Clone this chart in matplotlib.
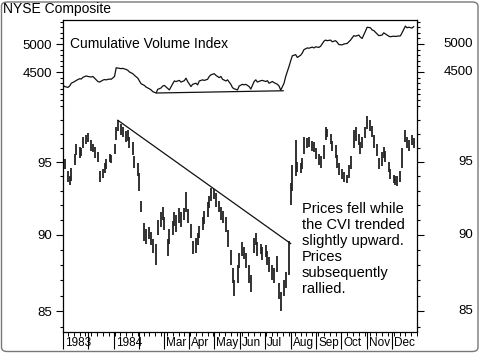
import matplotlib

matplotlib.use("Agg")
import matplotlib.dates as mdates
import matplotlib.pyplot as plt
import matplotlib.ticker as mticker
import matplotlib.transforms as mtransforms
import pandas as pd
from matplotlib.patches import FancyBboxPatch

plt.rcParams["font.family"] = ["Liberation Sans", "DejaVu Sans"]

# one bar / point every second trading day, Nov 1983 - Dec 1984
price_low = [
    94.2, 94.5, 93.6, 93.4, 93.7, 94.8, 95.5, 95.3, 95.4, 96.0,
    96.3, 96.4, 95.8, 95.7, 95.3, 95.0, 93.6, 93.9, 94.2, 94.5,
    95.0, 94.9, 95.6, 96.6, 97.2, 96.9, 96.8, 96.4, 96.5, 96.0,
    95.5, 94.6, 94.0, 93.0, 91.5, 89.6, 89.4, 89.7, 89.3, 88.8,
    88.0, 90.0, 90.5, 91.0, 90.3, 88.6, 89.4, 90.0, 90.6, 90.2,
    90.8, 90.5, 91.0, 91.5, 90.8, 89.8, 88.7, 88.8, 89.3, 89.8,
    90.3, 90.7, 91.2, 91.8, 92.3, 92.4, 91.9, 91.5, 91.0, 90.8,
    90.2, 89.2, 88.0, 86.8, 86.0, 86.8, 87.8, 88.6, 88.4, 87.8,
    86.8, 86.2, 88.8, 89.3, 88.6, 88.7, 88.3, 88.5, 88.0, 87.5,
    87.0, 86.8, 87.5, 85.8, 85.0, 86.0, 86.5, 87.3, 92.0, 93.0,
    94.0, 94.3, 94.2, 94.5, 95.6, 96.0, 96.1, 95.8, 95.7, 95.2,
    94.8, 94.6, 95.2, 96.6, 96.8, 96.3, 95.8, 95.3, 94.6, 94.1,
    93.8, 93.6, 93.5, 93.9, 94.5, 96.0, 96.5, 96.2, 95.6, 96.0,
    96.7, 97.4, 97.2, 96.8, 96.0, 95.4, 94.5, 94.7, 95.3, 95.0,
    94.3, 93.8, 93.5, 93.4, 93.3, 93.6, 94.6, 96.4, 96.0, 95.8,
    96.2, 96.0,
]
price_high = [
    95.1, 95.2, 94.4, 94.0, 94.6, 95.6, 96.3, 96.1, 96.0, 96.8,
    96.9, 97.1, 96.6, 96.3, 96.1, 95.7, 94.4, 94.5, 94.9, 95.2,
    95.6, 95.5, 96.3, 97.5, 98.0, 97.7, 97.5, 97.2, 97.3, 96.8,
    96.4, 95.4, 94.9, 94.2, 92.3, 90.8, 90.4, 90.5, 90.2, 89.7,
    89.4, 91.0, 91.5, 91.9, 91.2, 89.7, 90.4, 90.9, 91.5, 91.3,
    91.8, 91.5, 91.8, 92.9, 91.7, 90.7, 89.6, 89.8, 90.1, 90.6,
    91.2, 91.6, 92.2, 92.6, 93.2, 93.1, 92.8, 92.3, 91.9, 91.6,
    91.2, 90.3, 89.0, 87.8, 87.0, 88.0, 88.8, 89.5, 89.2, 88.8,
    88.0, 87.3, 89.8, 90.1, 89.5, 89.4, 89.2, 89.3, 88.9, 88.5,
    88.0, 87.8, 88.6, 86.8, 86.2, 87.0, 87.5, 89.6, 93.5, 94.8,
    96.6, 95.0, 94.9, 95.3, 96.8, 96.7, 96.8, 96.5, 96.4, 96.0,
    95.6, 95.4, 96.2, 97.5, 97.4, 97.0, 96.5, 96.2, 95.5, 94.9,
    94.5, 94.3, 94.1, 94.8, 95.4, 97.3, 97.5, 97.0, 96.4, 96.8,
    97.5, 98.3, 98.0, 97.6, 96.9, 96.3, 95.3, 95.7, 96.1, 95.8,
    95.0, 94.5, 94.1, 94.0, 94.0, 94.4, 96.0, 97.3, 96.8, 96.6,
    96.9, 96.7,
]
cvi = [
    4268, 4240, 4225, 4250, 4300, 4330, 4350, 4380, 4375, 4405,
    4430, 4420, 4410, 4420, 4390, 4330, 4320, 4355, 4365, 4360,
    4375, 4370, 4420, 4575, 4570, 4560, 4565, 4545, 4530, 4500,
    4470, 4440, 4390, 4340, 4290, 4260, 4230, 4200, 4180, 4150,
    4125, 4190, 4215, 4250, 4260, 4205, 4180, 4290, 4340, 4330,
    4350, 4320, 4345, 4390, 4330, 4240, 4280, 4300, 4270, 4340,
    4360, 4350, 4370, 4420, 4450, 4470, 4440, 4400, 4420, 4370,
    4340, 4360, 4280, 4220, 4200, 4180, 4250, 4280, 4270, 4280,
    4240, 4195, 4330, 4360, 4320, 4345, 4350, 4330, 4345, 4300,
    4330, 4310, 4280, 4250, 4175, 4300, 4420, 4600, 4700, 4790,
    4810, 4760, 4800, 4840, 4900, 4930, 4925, 4945, 4930, 4950,
    4940, 4960, 5050, 5070, 5060, 5070, 5040, 5060, 5030, 4990,
    4985, 5000, 5010, 5040, 5070, 5150, 5140, 5160, 5120, 5100,
    5230, 5300, 5290, 5250, 5240, 5180, 5150, 5160, 5200, 5180,
    5140, 5130, 5140, 5135, 5140, 5145, 5200, 5320, 5290, 5300,
    5285, 5310,
]

# drawn trend lines
price_trend_dates = ["1984-01-06", "1984-08-01"]
price_trend_values = [98.0, 89.4]
cvi_support_dates = ["1984-02-22", "1984-07-23"]
cvi_support_values = [4125, 4165]

month_labels = ["1983", "", "1984", "", "Mar", "Apr", "May", "Jun",
                "Jul", "Aug", "Sep", "Oct", "Nov", "Dec"]
month_starts = pd.date_range("1983-11-01", "1984-12-01", freq="MS")

cvi_ticks = [4500, 5000]
price_ticks = [85, 90, 95]


def main() -> None:
    W, H = 480, 353
    fig = plt.figure(figsize=(W / 100, H / 100), dpi=100)

    def fx(px):
        return px / W

    def fy(py):
        return 1 - py / H

    left, right, top, mid, bottom = 63, 417, 20, 108, 332
    ax1 = fig.add_axes([fx(left), fy(mid), fx(right - left), (mid - top) / H])
    ax2 = fig.add_axes([fx(left), fy(bottom), fx(right - left), (bottom - mid) / H], sharex=ax1)

    dates = pd.bdate_range("1983-11-01", "1984-12-31")[::2][: len(price_low)]
    x = mdates.date2num(dates.to_pydatetime())

    # price bars
    ax2.vlines(x, price_low, price_high, color="#222222", linewidth=1.3)
    ax2.plot(pd.to_datetime(price_trend_dates), price_trend_values, color="#111111", linewidth=0.9)
    ax2.set_yscale("log")
    ax2.set_ylim(83.7, 98.9)

    # cumulative volume index
    ax1.plot(x, cvi, color="#111111", linewidth=0.9)
    ax1.plot(pd.to_datetime(cvi_support_dates), cvi_support_values, color="#111111", linewidth=0.9)
    ax1.set_ylim(3857, 5429)

    ax1.set_xlim(mdates.date2num(pd.Timestamp("1983-11-01")), mdates.date2num(pd.Timestamp("1984-12-31")))

    for ax in (ax1, ax2):
        for s in ax.spines.values():
            s.set_linewidth(0.9)
        ax.tick_params(axis="y", which="both", direction="out", left=True, right=True,
                       labelleft=True, labelright=False, width=0.8)
        ax.tick_params(axis="y", which="major", length=5, pad=3, labelsize=9.5)
        ax.tick_params(axis="y", which="minor", length=2.5)
    ax1.spines["bottom"].set_visible(False)
    ax2.spines["top"].set_visible(False)
    ax1.tick_params(axis="x", which="both", bottom=False, labelbottom=False)

    ax1.yaxis.set_major_locator(mticker.FixedLocator(cvi_ticks))
    ax1.yaxis.set_minor_locator(mticker.MultipleLocator(100))
    ax1.yaxis.set_major_formatter(mticker.FuncFormatter(lambda v, _: f"{v:.0f}"))

    ax2.yaxis.set_major_locator(mticker.FixedLocator(price_ticks))
    ax2.yaxis.set_minor_locator(mticker.FixedLocator(range(84, 99)))
    ax2.yaxis.set_major_formatter(mticker.FuncFormatter(lambda v, _: f"{v:.0f}"))
    ax2.yaxis.set_minor_formatter(mticker.NullFormatter())

    # right-hand labels, right aligned far from the axis
    for ax, ticks in ((ax1, cvi_ticks), (ax2, price_ticks)):
        trans = mtransforms.blended_transform_factory(fig.transFigure, ax.transData)
        for t in ticks:
            ax.text(fx(473), t, f"{t}", transform=trans, ha="right", va="center", fontsize=9.5)

    # x axis: month separators and weekly ticks
    ax2.xaxis.set_major_locator(mticker.FixedLocator(mdates.date2num(month_starts.to_pydatetime())))
    ax2.xaxis.set_minor_locator(mdates.WeekdayLocator(byweekday=mdates.MO))
    ax2.xaxis.set_major_formatter(mticker.NullFormatter())
    ax2.tick_params(axis="x", which="major", direction="out", length=12, width=0.8)
    ax2.tick_params(axis="x", which="minor", direction="out", length=3, width=0.7)
    lab_trans = mtransforms.blended_transform_factory(ax2.transData, ax2.transAxes) + \
        mtransforms.ScaledTranslation(1.5 / 72, 0, fig.dpi_scale_trans)
    for d, lab in zip(month_starts, month_labels):
        if lab:
            ax2.text(mdates.date2num(d), -0.05, lab, transform=lab_trans,
                     ha="left", va="center", fontsize=8.5)

    ax1.text(0.02, 0.727, "Cumulative Volume Index", transform=ax1.transAxes,
             ha="left", va="center", fontsize=10)
    ax2.text(0.675, 0.58,
             "Prices fell while\nthe CVI trended\nslightly upward.\nPrices\nsubsequently\nrallied.",
             transform=ax2.transAxes, ha="left", va="top", fontsize=10.5, linespacing=1.18)

    fig.text(fx(3), fy(9), "NYSE Composite", ha="left", va="center", fontsize=10)
    fig.patches.append(FancyBboxPatch((fx(1.5), fy(351.5)), fx(476.5), 349.5 / H,
                                      boxstyle="round,pad=0,rounding_size=0.012",
                                      transform=fig.transFigure, facecolor="none",
                                      edgecolor="#777777", linewidth=1.0))

    fig.savefig("out.png", dpi=100)
    plt.close(fig)


if __name__ == "__main__":
    main()
